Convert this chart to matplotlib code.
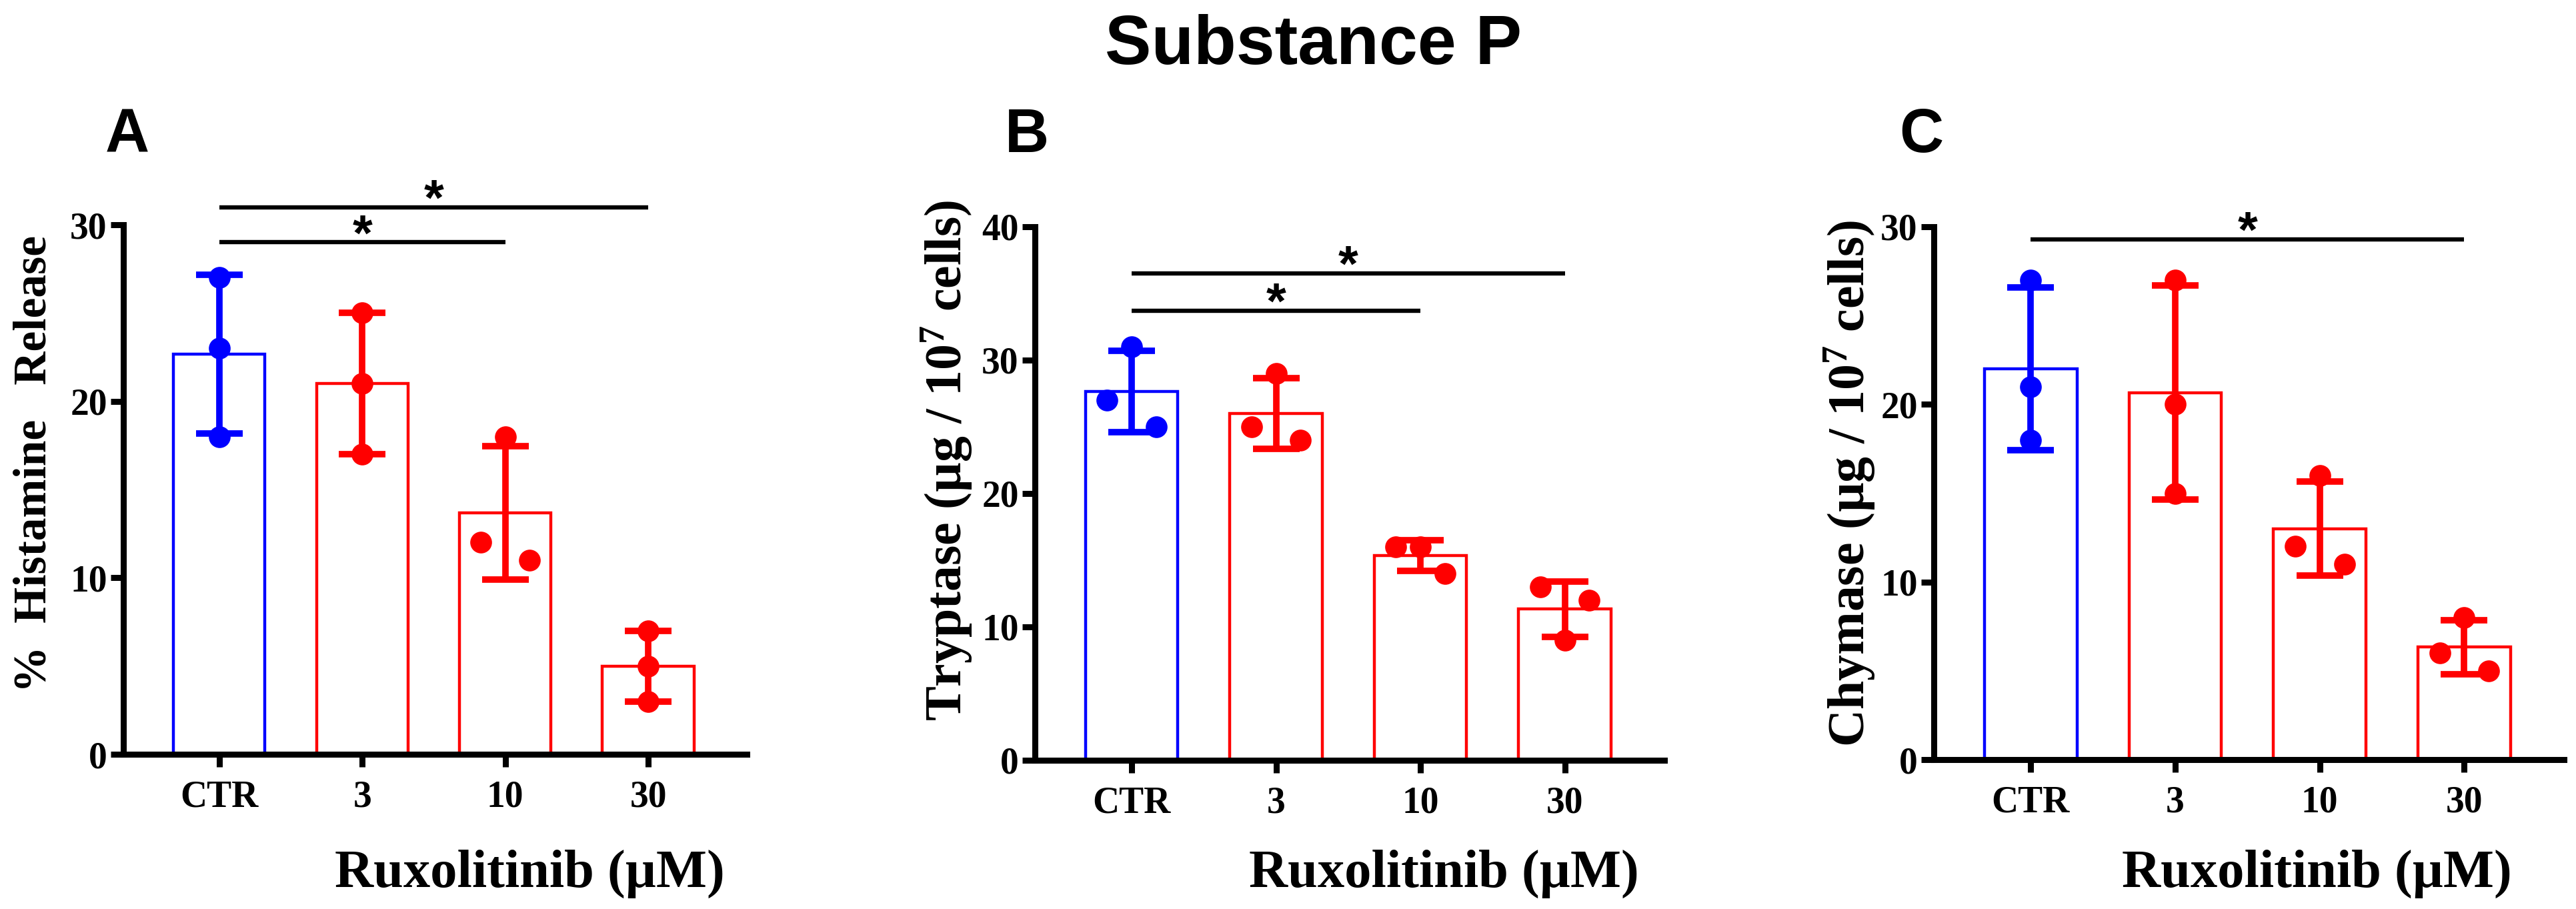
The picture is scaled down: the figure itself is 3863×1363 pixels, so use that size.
import numpy as np
import matplotlib
matplotlib.use('Agg')
import matplotlib.pyplot as plt

plt.rcParams['font.family'] = 'Liberation Serif'
plt.rcParams['font.weight'] = 'bold'
plt.rcParams['mathtext.fontset'] = 'custom'
plt.rcParams['mathtext.rm'] = 'Liberation Serif:bold'
plt.rcParams['mathtext.bf'] = 'Liberation Serif:bold'
plt.rcParams['mathtext.it'] = 'Liberation Serif:bold'

# groups on the x axis
groups = ['CTR', '3', '10', '30']
colors = ['#0000ff', '#ff0000', '#ff0000', '#ff0000']

# the three replicates per group
histamine = [[27, 23, 18], [25, 21, 17], [18, 12, 11], [7, 5, 3]]
tryptase = [[31, 27, 25], [29, 25, 24], [16, 16, 14], [13, 12, 9]]
chymase = [[27, 21, 18], [27, 20, 15], [16, 12, 11], [8, 6, 5]]

# which side each dot sits (-1 left, 0 middle, 1 right)
side_a = [[0, 0, 0], [0, 0, 0], [0, -1, 1], [0, 0, 0]]
side_b = [[0, -1, 1], [0, -1, 1], [-1, 0, 1], [-1, 1, 0]]
side_c = [[0, 0, 0], [0, 0, 0], [0, -1, 1], [0, -1, 1]]

# significance bars: from group, to group, height
sig_a = [(0, 3, 31.0), (0, 2, 29.0)]
sig_b = [(0, 3, 36.5), (0, 2, 33.7)]
sig_c = [(0, 3, 29.3)]

W, H = 3863, 1363
fig = plt.figure(figsize=(W / 100, H / 100), dpi=100)


def px(x0, y0, x1, y1):
    # pixel box -> figure rect
    return [x0 / W, 1 - y1 / H, (x1 - x0) / W, (y1 - y0) / H]


def panel(rect, vals, sides, ymax, sigs):
    ax = fig.add_axes(rect)
    x = np.arange(len(groups))
    means = [np.mean(v) for v in vals]
    sds = [np.std(v, ddof=1) for v in vals]
    ax.bar(x, means, width=0.64, color='white', edgecolor=colors,
           linewidth=3.2, zorder=1)
    for i in x:
        ax.errorbar(i, means[i], yerr=sds[i], color=colors[i], elinewidth=7,
                    capsize=25, capthick=7, zorder=2)
        ax.plot(i + 0.17 * np.array(sides[i]), vals[i], 'o', color=colors[i],
                ms=23.5, mew=0, zorder=3, clip_on=False)
    for a, b, h in sigs:
        ax.plot([a, b], [h, h], color='black', lw=4.6, clip_on=False,
                solid_capstyle='butt')
        ax.annotate('*', xy=((a + b) / 2, h), xytext=(0, -8),
                    textcoords='offset points', ha='center', va='baseline',
                    family='Liberation Sans', fontsize=55, fontweight='bold',
                    annotation_clip=False)
    ax.set_xlim(-0.67, 3.69)
    ax.set_ylim(0, ymax)
    ax.set_yticks(np.arange(0, ymax + 1, 10))
    ax.set_xticks(x, groups)
    for s in ['top', 'right']:
        ax.spines[s].set_visible(False)
    for s in ['left', 'bottom']:
        ax.spines[s].set_linewidth(6.5)
    ax.tick_params(width=6.5, length=13.5, labelsize=40)
    ax.tick_params(axis='y', pad=4)
    ax.tick_params(axis='x', pad=14)
    return ax


panel(px(185, 337, 1120, 1131), histamine, side_a, 30, sig_a)
panel(px(1552, 340, 2496, 1140), tryptase, side_b, 40, sig_b)
panel(px(2900, 340, 3845, 1139), chymase, side_c, 30, sig_c)

# y labels
ylab = dict(rotation=90, rotation_mode='anchor', ha='center', va='baseline')
fig.text(69 / W, 1 - 696 / H, '%  Histamine   Release', fontsize=50, **ylab)
fig.text(1442 / W, 1 - 690 / H, r'Tryptase (µg / 10$^{\mathbf{7}}$ cells)',
         fontsize=56, **ylab)
fig.text(2796 / W, 1 - 725 / H, r'Chymase (µg / 10$^{\mathbf{7}}$ cells)',
         fontsize=56, **ylab)

# x labels
for xc in [794, 2165, 3474]:
    fig.text(xc / W, 1 - 1330 / H, 'Ruxolitinib (µM)', fontsize=58,
             ha='center', va='baseline')

# panel letters and title
for lx, let in [(158, 'A'), (1507, 'B'), (2848, 'C')]:
    fig.text(lx / W, 1 - 228 / H, let, family='Liberation Sans',
             fontweight='bold', fontsize=66, ha='left', va='baseline')
fig.text(1969 / W, 1 - 96 / H, 'Substance P', family='Liberation Sans',
         fontweight='bold', fontsize=75, ha='center', va='baseline')

fig.savefig('out.png', dpi=100, facecolor='white')
